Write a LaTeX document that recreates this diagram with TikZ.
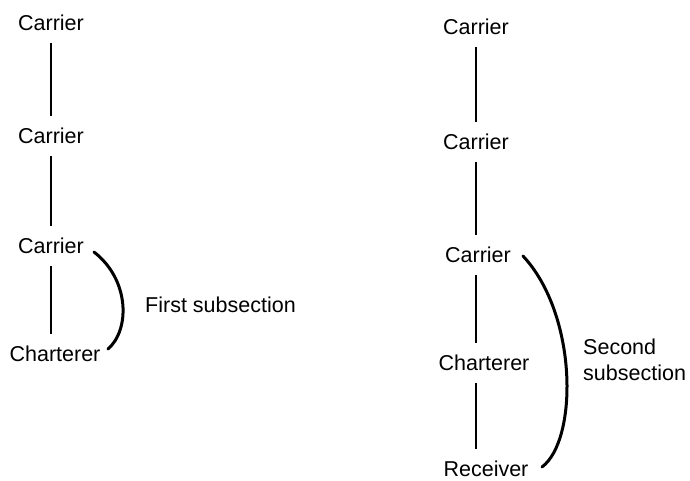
\documentclass[tikz,border=0pt]{standalone}
\usepackage{fontspec}
\setmainfont{Liberation Sans}
\begin{document}
\begin{tikzpicture}[x=1pt,y=-1pt,
  party/.style={font=\fontsize{21.5}{26}\selectfont, inner xsep=0pt, inner ysep=12pt,
                text height=15pt, text depth=0pt},
  link/.style={line width=1.5pt},
  span/.style={line width=3pt, line cap=round},
  note/.style={font=\fontsize{21.5}{26}\selectfont, anchor=west, align=left, inner sep=0pt}]
\useasboundingbox (0,0) rectangle (690,480);

% first chain
\node[party] (c1) at (51,23)  {Carrier};
\node[party] (c2) at (51,136) {Carrier};
\node[party] (c3) at (51,246) {Carrier};
\node[party] (c4) at (55,354) {Charterer};
\draw[link] (c1.south) -- (c1.south |- c2.north);
\draw[link] (c1.south |- c2.south) -- (c1.south |- c3.north);
\draw[link] (c1.south |- c3.south) -- (c1.south |- c4.north);

% second chain
\node[party] (d1) at (476,27)  {Carrier};
\node[party] (d2) at (476,142) {Carrier};
\node[party] (d3) at (478,255) {Carrier};
\node[party] (d4) at (484,363) {Charterer};
\node[party] (d5) at (486,469) {Receiver};
\draw[link] (d1.south) -- (d1.south |- d2.north);
\draw[link] (d1.south |- d2.south) -- (d1.south |- d3.north);
\draw[link] (d1.south |- d3.south) -- (d1.south |- d4.north);
\draw[link] (d1.south |- d4.south) -- (d1.south |- d5.north);

% subsection brackets
\coordinate (s1a) at (94,252);
\coordinate (s1b) at (108,349);
\draw[span] (s1a) .. controls (130,280) and (130,330) .. (s1b);
\node[note] (n1) at (145,305) {First subsection};

\coordinate (s2a) at (523,256);
\coordinate (s2b) at (542,467);
\draw[span] (s2a) .. controls (578,315) and (578,440) .. (s2b);
\node[note] (n2) at (583,360) {Second\\subsection};
\end{tikzpicture}
\end{document}
